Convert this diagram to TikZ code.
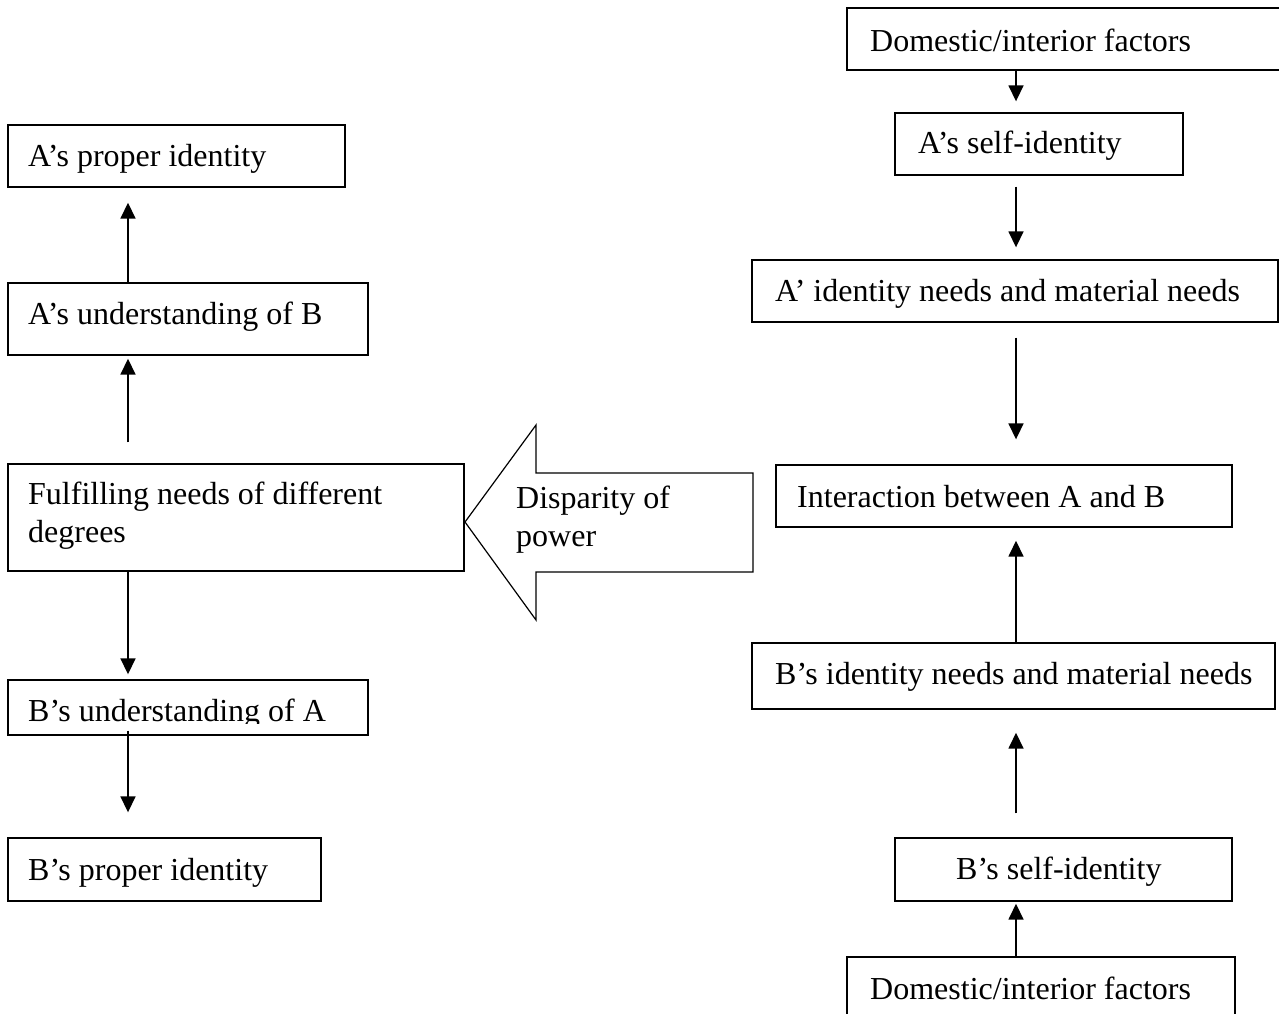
\documentclass[tikz,border=0pt]{standalone}
\usepackage{fontspec}
\setmainfont{Liberation Serif}
\usetikzlibrary{arrows.meta,fit}
\begin{document}
\begin{tikzpicture}[x=1pt,y=-1pt,
  box/.style={draw, line width=1.4pt, inner sep=0pt, rectangle},
  lbl/.style={anchor=base west, inner sep=0pt, font=\fontsize{32}{38}\selectfont},
  arr/.style={line width=1.7pt, -{Triangle[width=15pt,length=16pt]}}]
\clip (0,0) rectangle (1279,1013);
% left column boxes
\node[box, fit={(8,125) (345,187)}] (b1) {};
\node[box, fit={(8,283) (368,355)}] (b2) {};
\node[box, fit={(8,464) (464,571)}] (b3) {};
\node[box, fit={(8,680) (368,735)}] (b4) {};
\node[box, fit={(8,838) (321,901)}] (b5) {};
% right column boxes
\node[box, fit={(847,8) (1300,70)}] (b6) {};
\node[box, fit={(895,113) (1183,175)}] (b7) {};
\node[box, fit={(752,260) (1278,322)}] (b8) {};
\node[box, fit={(776,465) (1232,527)}] (b9) {};
\node[box, fit={(752,643) (1275,709)}] (b10) {};
\node[box, fit={(895,838) (1232,901)}] (b11) {};
\node[box, fit={(847,957) (1235,1040)}] (b12) {};
% texts
\node[lbl] (t1) at (28,166) {A’s proper identity};
\node[lbl] (t2) at (28,324) {A’s understanding of B};
\node[lbl] (t3) at (28,504) {Fulfilling needs of different};
\node[lbl] (t3b) at (28,542) {degrees};
\begin{scope}
\clip (0,680) rectangle (400,723);
\node[lbl] (t4) at (28,721) {B’s understanding of A};
\end{scope}
\node[lbl] (t5) at (28,880) {B’s proper identity};
\node[lbl] (t6) at (870,51) {Domestic/interior factors};
\node[lbl] (t7) at (918,153) {A’s self-identity};
\node[lbl] (t8) at (775,301) {A’ identity needs and material needs};
\node[lbl] (t9) at (797,507) {Interaction between A and B};
\node[lbl] (t10) at (775,684) {B’s identity needs and material needs};
\node[lbl] (t11) at (956,879) {B’s self-identity};
\node[lbl] (t12) at (870,999) {Domestic/interior factors};
% big block arrow
\draw[line width=1.2pt, line join=miter] (465,522) -- (536,425) -- (536,473) -- (753,473) -- (753,572) -- (536,572) -- (536,620) -- cycle;
\node[lbl] (p1) at (516,508) {Disparity of};
\node[lbl] (p2) at (516,546) {power};
% connectors
\coordinate (lx) at (128,0);
\coordinate (rx) at (1016,0);
\draw[arr, shorten >=15pt] (b2.north -| lx) -- (b1.south -| lx);
\draw[arr, shorten <=21pt, shorten >=3pt] (b3.north -| lx) -- (b2.south -| lx);
\draw[arr, shorten >=5pt] (b3.south -| lx) -- (b4.north -| lx);
\draw[arr, shorten <=-5pt, shorten >=25pt] (b4.south -| lx) -- (b5.north -| lx);
\draw[arr, shorten >=11pt] (b6.south -| rx) -- (b7.north -| rx);
\draw[arr, shorten <=11pt, shorten >=12pt] (b7.south -| rx) -- (b8.north -| rx);
\draw[arr, shorten <=15pt, shorten >=25pt] (b8.south -| rx) -- (b9.north -| rx);
\draw[arr, shorten >=13pt] (b10.north -| rx) -- (b9.south -| rx);
\draw[arr, shorten <=24pt, shorten >=23pt] (b11.north -| rx) -- (b10.south -| rx);
\draw[arr, shorten >=2pt] (b12.north -| rx) -- (b11.south -| rx);
\end{tikzpicture}
\end{document}
